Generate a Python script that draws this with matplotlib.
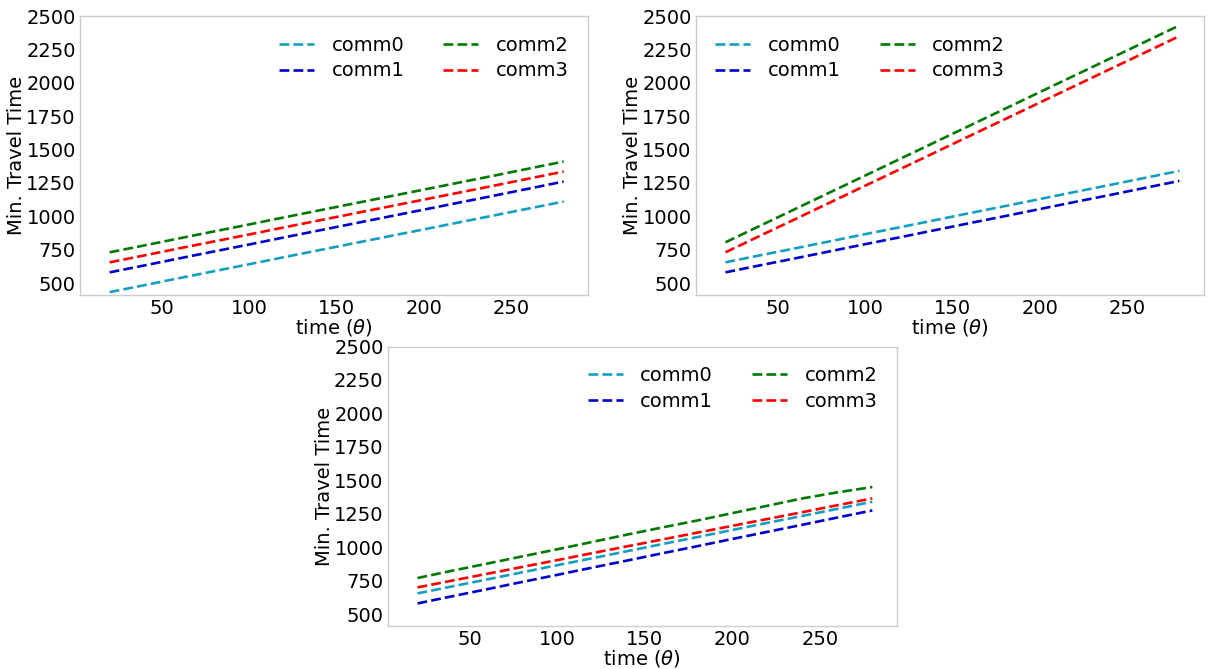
import numpy as np
import matplotlib
matplotlib.use("Agg")
import matplotlib.pyplot as plt

theta = [20, 40, 60, 80, 100, 120, 140, 160, 180, 200, 220, 240, 260, 280]

# panel 1 (top left)
p1_comm0 = [432, 484, 537, 589, 641, 694, 746, 798, 850, 902, 954, 1006, 1058, 1110]
p1_comm1 = [580, 632, 685, 737, 789, 842, 894, 946, 998, 1050, 1102, 1154, 1207, 1260]
p1_comm2 = [730, 782, 835, 887, 939, 992, 1044, 1096, 1148, 1200, 1252, 1304, 1357, 1410]
p1_comm3 = [655, 707, 760, 812, 864, 917, 969, 1021, 1073, 1125, 1177, 1229, 1282, 1335]

# panel 2 (top right)
p2_comm0 = [655, 708, 760, 813, 866, 918, 971, 1024, 1076, 1129, 1182, 1234, 1287, 1340]
p2_comm1 = [580, 633, 685, 738, 791, 843, 896, 949, 1001, 1054, 1107, 1159, 1212, 1265]
p2_comm2 = [805, 930, 1055, 1180, 1305, 1430, 1555, 1680, 1805, 1930, 2055, 2180, 2305, 2430]
p2_comm3 = [730, 855, 979, 1104, 1229, 1353, 1478, 1603, 1727, 1852, 1976, 2101, 2225, 2350]

# panel 3 (bottom)
p3_comm0 = [655, 708, 760, 813, 866, 918, 971, 1024, 1076, 1129, 1182, 1234, 1287, 1340]
p3_comm1 = [580, 634, 687, 741, 794, 848, 901, 955, 1008, 1062, 1115, 1168, 1222, 1275]
p3_comm2 = [770, 825, 878, 932, 985, 1040, 1095, 1148, 1200, 1255, 1310, 1365, 1410, 1450]
p3_comm3 = [700, 751, 802, 853, 904, 956, 1007, 1058, 1109, 1160, 1211, 1262, 1314, 1365]

labels = ["comm0", "comm1", "comm2", "comm3"]
colors = ["#129fc2", "#0000cd", "#007a00", "#ff0000"]

panels = [
    ([0.0662, 0.559, 0.4206, 0.417], [p1_comm0, p1_comm1, p1_comm2, p1_comm3], "upper right"),
    ([0.5760, 0.559, 0.4206, 0.417], [p2_comm0, p2_comm1, p2_comm2, p2_comm3], "upper left"),
    ([0.3210, 0.064, 0.4214, 0.418], [p3_comm0, p3_comm1, p3_comm2, p3_comm3], "upper right"),
]

fig = plt.figure(figsize=(12.08, 6.69), dpi=100)
for rect, series, loc in panels:
    ax = fig.add_axes(rect)
    for y, lab, c in zip(series, labels, colors):
        ax.plot(theta, y, linestyle="--", color=c, linewidth=1.9, label=lab)
    ax.set_xlim(3, 294)
    ax.set_ylim(410, 2500)
    ax.set_xticks([50, 100, 150, 200, 250])
    ax.set_yticks(np.arange(500, 2501, 250))
    ax.tick_params(length=0, labelsize=14, pad=3)
    for s in ax.spines.values():
        s.set_color("#cccccc")
        s.set_linewidth(1.0)
    ax.set_xlabel(r"time ($\theta$)", fontsize=14, labelpad=-1)
    ax.set_ylabel("Min. Travel Time", fontsize=14, labelpad=0)
    ax.legend(loc=loc, ncol=2, frameon=False, fontsize=14, handlelength=1.8,
              handletextpad=0.9, columnspacing=2.0, borderaxespad=0.6,
              labelspacing=0.35)

fig.savefig("out.png", dpi=100)
